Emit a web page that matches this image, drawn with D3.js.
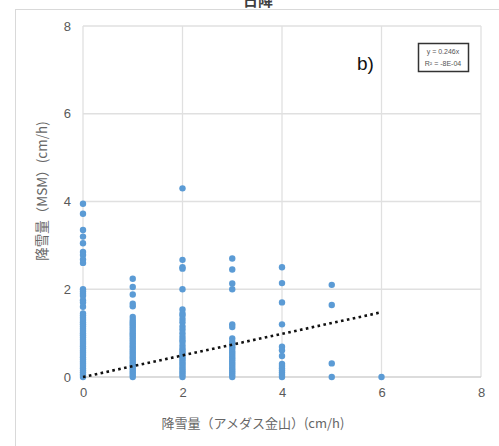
<!DOCTYPE html>
<html>
<head>
<meta charset="utf-8">
<script src="https://cdn.jsdelivr.net/npm/d3@7"></script>
<style>
  body { margin: 0; background: #fff; }
  text { font-family: "Noto Sans CJK JP", "Liberation Sans", sans-serif; }
</style>
</head>
<body>
<svg id="chart"></svg>
<script>
const xValues = [0, 1, 2, 3, 4, 5, 6];
const col0 = [3.95, 3.72, 3.35, 3.2, 3.05, 2.85, 2.78, 2.68, 2.6, 2.0, 1.95, 1.9, 1.85, 1.75, 1.7, 1.6,
  1.45, 1.4, 1.35, 1.3, 1.25, 1.2, 1.15, 1.1, 1.05, 1.0, 0.95, 0.9, 0.85, 0.8, 0.75, 0.7, 0.65, 0.6,
  0.55, 0.5, 0.45, 0.4, 0.35, 0.3, 0.25, 0.2, 0.15, 0.1, 0.05, 0];
const col1 = [2.24, 2.05, 1.88, 1.67, 1.61, 1.37, 1.3, 1.25, 1.2, 1.15, 1.1, 1.05, 1.0, 0.95, 0.9, 0.85,
  0.8, 0.75, 0.7, 0.65, 0.6, 0.55, 0.5, 0.45, 0.4, 0.35, 0.3, 0.25, 0.2, 0.15, 0.1, 0.05, 0];
const col2 = [4.3, 2.67, 2.5, 2.47, 2.0, 1.54, 1.45, 1.4, 1.32, 1.25, 1.15, 1.08, 1.0, 0.92, 0.85, 0.8,
  0.72, 0.65, 0.6, 0.55, 0.5, 0.45, 0.4, 0.35, 0.3, 0.25, 0.2, 0.15, 0.1, 0.05, 0];
const col3 = [2.7, 2.45, 2.13, 2.0, 1.2, 1.14, 0.88, 0.8, 0.75, 0.69, 0.66, 0.6, 0.55, 0.5, 0.45, 0.4,
  0.35, 0.3, 0.25, 0.2, 0.15, 0.1, 0.05, 0];
const col4 = [2.5, 2.14, 1.7, 1.2, 0.69, 0.61, 0.48, 0.3, 0.25, 0.2, 0.15, 0.1, 0.05, 0];
const col5 = [2.1, 1.64, 0.31, 0];
const col6 = [0];
const columns = [col0, col1, col2, col3, col4, col5, col6];

const xTicks = [0, 2, 4, 6, 8];
const yTicks = [0, 2, 4, 6, 8];
const slope = 0.246;
const trendX = [0, 6];

let width = 499, height = 446;
var margin = {top: 26, right: 18, bottom: 69, left: 83};

let svg = d3.select("#chart")
    .attr("width", width)
    .attr("height", height);

// build point list
let points = [];
columns.forEach((col, i) => {
    col.forEach(v => points.push({x: xValues[i], y: v}));
});

const xScale = d3.scaleLinear().domain([0, 8]).range([margin.left, width - margin.right]);
const yScale = d3.scaleLinear().domain([0, 8]).range([height - margin.bottom, margin.top]);

// outer chart frame
svg.append("rect")
    .attr("x", 15.5).attr("y", 9.5)
    .attr("width", 520).attr("height", 500)
    .attr("fill", "none")
    .attr("stroke", "#d9d9d9");

// title (cut off at the top, as in the source)
svg.append("text")
    .attr("x", 258).attr("y", 6)
    .attr("text-anchor", "middle")
    .style("font-size", "15px")
    .style("font-weight", "bold")
    .attr("fill", "#404040")
    .text("日降");

// gridlines
svg.append("g").selectAll("line")
    .data(xTicks)
    .enter().append("line")
    .attr("x1", d => xScale(d)).attr("x2", d => xScale(d))
    .attr("y1", yScale(0)).attr("y2", yScale(8))
    .attr("stroke", "#e0e0e0").attr("stroke-width", 1.3);
svg.append("g").selectAll("line")
    .data(yTicks)
    .enter().append("line")
    .attr("x1", xScale(0)).attr("x2", xScale(8))
    .attr("y1", d => yScale(d)).attr("y2", d => yScale(d))
    .attr("stroke", d => d == 0 ? "#d0d0d0" : "#e0e0e0").attr("stroke-width", 1.3);

// axes (labels only)
let xAxis = svg.append("g")
    .attr("transform", "translate(0," + (yScale(0) + 8) + ")")
    .call(d3.axisBottom(xScale).tickValues(xTicks).tickSize(0).tickPadding(3));
xAxis.select(".domain").remove();
xAxis.selectAll("text")
    .style("font-size", "13px").style("font-family", "Liberation Sans, sans-serif")
    .attr("fill", "#595959");

let yAxis = svg.append("g")
    .attr("transform", "translate(" + (xScale(0) - 12) + ",0)")
    .call(d3.axisLeft(yScale).tickValues(yTicks).tickSize(0).tickPadding(0));
yAxis.select(".domain").remove();
yAxis.selectAll("text")
    .style("font-size", "13px").style("font-family", "Liberation Sans, sans-serif")
    .attr("fill", "#595959");

// points
svg.append("g").selectAll("circle")
    .data(points)
    .enter().append("circle")
    .attr("cx", d => xScale(d.x))
    .attr("cy", d => yScale(d.y))
    .attr("r", 3.2)
    .attr("fill", "#5b9bd5");

// trend line
svg.append("line")
    .attr("x1", xScale(trendX[0])).attr("y1", yScale(slope * trendX[0]))
    .attr("x2", xScale(trendX[1])).attr("y2", yScale(slope * trendX[1]))
    .attr("stroke", "#111")
    .attr("stroke-width", 2.6)
    .attr("stroke-dasharray", "2.6,3.4");

// axis titles
svg.append("text")
    .attr("x", 253).attr("y", 428)
    .attr("text-anchor", "middle")
    .style("font-size", "13px")
    .attr("fill", "#666")
    .text("降雪量（アメダス金山）(cm/h)");

svg.append("text")
    .attr("transform", "translate(47,191) rotate(-90)")
    .attr("text-anchor", "middle")
    .style("font-size", "13.5px")
    .attr("fill", "#666")
    .text("降雪量（MSM）(cm/h)");

// panel label
svg.append("text")
    .attr("x", 357).attr("y", 70)
    .style("font-size", "19px")
    .style("font-family", "Liberation Sans, sans-serif")
    .attr("fill", "#111")
    .text("b)");

// equation box
svg.append("rect")
    .attr("x", 418.5).attr("y", 43.5)
    .attr("width", 50).attr("height", 28)
    .attr("fill", "#fff")
    .attr("stroke", "#333").attr("stroke-width", 1.5);
svg.append("text")
    .attr("x", 443).attr("y", 54)
    .attr("text-anchor", "middle")
    .style("font-size", "7px").style("font-family", "Liberation Sans, sans-serif")
    .attr("fill", "#555")
    .text("y = 0.246x");
svg.append("text")
    .attr("x", 443).attr("y", 66)
    .attr("text-anchor", "middle")
    .style("font-size", "7px").style("font-family", "Liberation Sans, sans-serif")
    .attr("fill", "#555")
    .text("R² = -8E-04");
</script>
</body>
</html>
